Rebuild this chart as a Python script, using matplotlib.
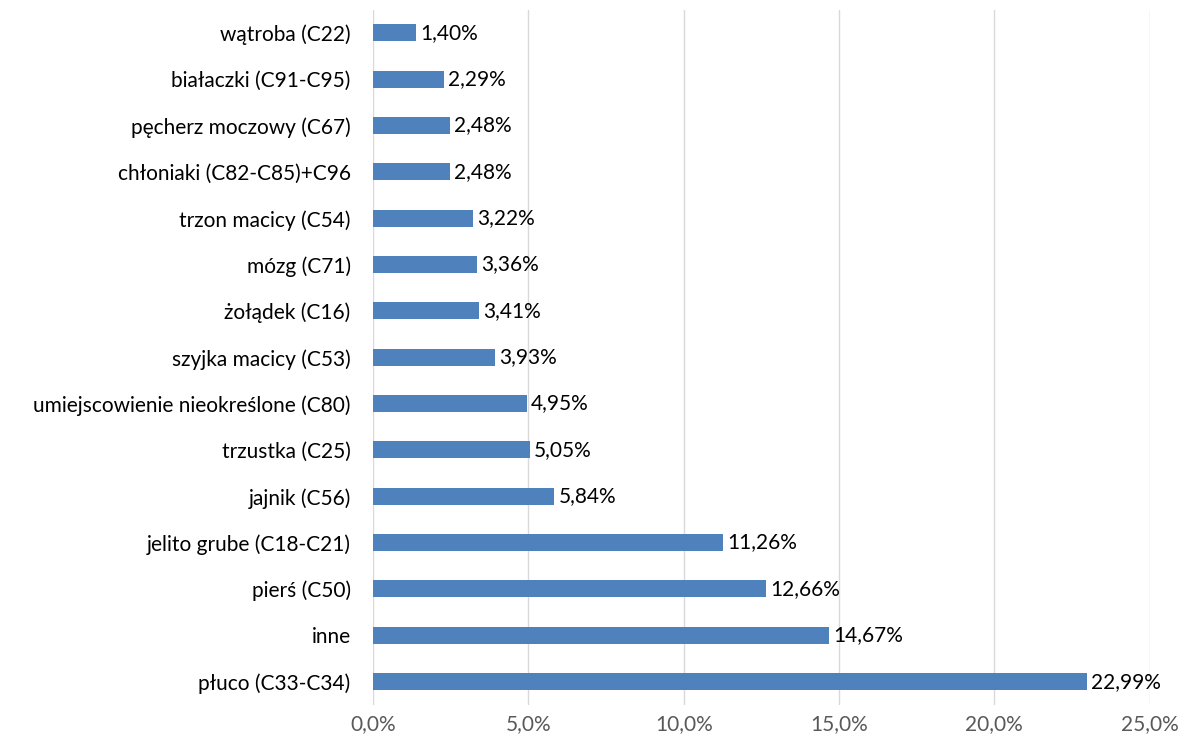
import matplotlib.pyplot as plt

# categories listed bottom to top
categories = ["płuco (C33-C34)", "inne", "pierś (C50)", "jelito grube (C18-C21)",
              "jajnik (C56)", "trzustka (C25)", "umiejscowienie nieokreślone (C80)",
              "szyjka macicy (C53)", "żołądek (C16)", "mózg (C71)", "trzon macicy (C54)",
              "chłoniaki (C82-C85)+C96", "pęcherz moczowy (C67)", "białaczki (C91-C95)",
              "wątroba (C22)"]
values = [22.99, 14.67, 12.66, 11.26, 5.84, 5.05, 4.95, 3.93, 3.41, 3.36, 3.22,
          2.48, 2.48, 2.29, 1.40]
ticks = [0, 5, 10, 15, 20, 25]

plt.rcParams['font.family'] = ['Lato', 'DejaVu Sans']

fig = plt.figure(figsize=(11.84, 7.45), dpi=100)
ax = fig.add_axes([0.315, 0.054, 0.656, 0.933])

ypos = list(range(len(categories)))
ax.barh(ypos, values, height=0.37, color='#4F81BD', zorder=3)

for y, v in zip(ypos, values):
    ax.annotate(f"{v:.2f}%".replace('.', ','), (v, y), xytext=(3, 0),
                textcoords='offset points', va='center', ha='left',
                fontsize=15, color='black')

ax.set_xlim(0, 25)
ax.set_ylim(-0.5, len(categories) - 0.5)
ax.set_xticks(ticks)
ax.set_xticklabels([f"{t:.1f}%".replace('.', ',') for t in ticks],
                   fontsize=15, color='#595959')
ax.set_yticks(ypos)
ax.set_yticklabels(categories, fontsize=15, color='black')
ax.tick_params(axis='both', length=0)
ax.tick_params(axis='x', pad=7)
ax.tick_params(axis='y', pad=16)

ax.grid(axis='x', color='#D9D9D9', linewidth=1, zorder=0)
for s in ax.spines.values():
    s.set_visible(False)

fig.savefig("out.png", dpi=100)
